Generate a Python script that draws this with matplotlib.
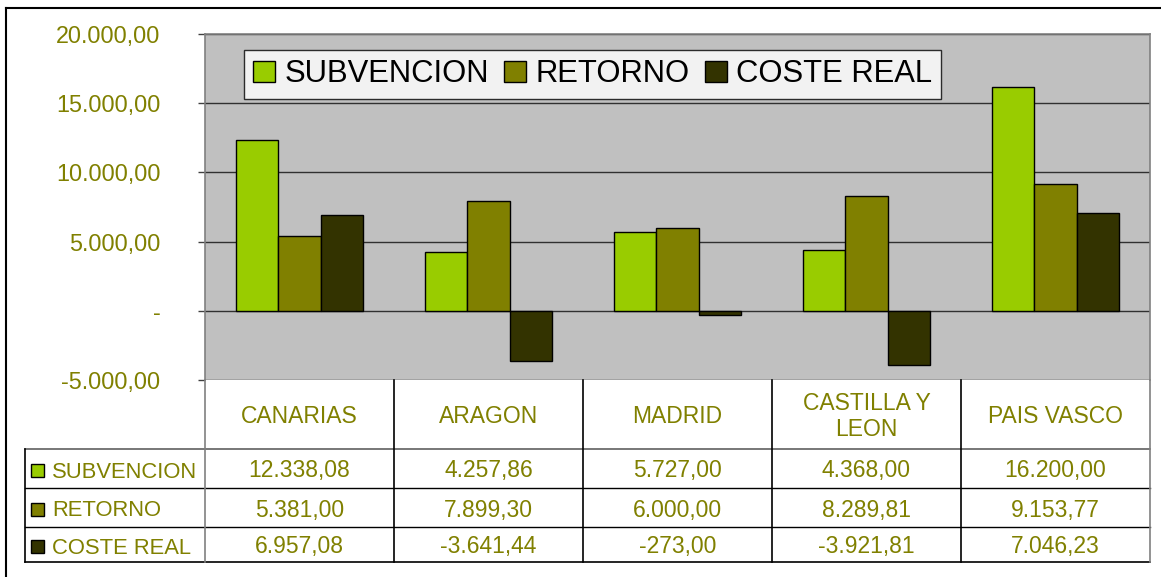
import matplotlib
matplotlib.use("Agg")
import matplotlib.pyplot as plt
import numpy as np

categories = ["CANARIAS", "ARAGON", "MADRID", "CASTILLA Y\nLEON", "PAIS VASCO"]
series_names = ["SUBVENCION", "RETORNO", "COSTE REAL"]
subvencion = [12338.08, 4257.86, 5727.00, 4368.00, 16200.00]
retorno = [5381.00, 7899.30, 6000.00, 8289.81, 9153.77]
coste_real = [6957.08, -3641.44, -273.00, -3921.81, 7046.23]
y_ticks = [-5000, 0, 5000, 10000, 15000, 20000]

colors = ["#99CC00", "#808000", "#333300"]
olive = "#808000"
plt.rcParams['font.family'] = ['Liberation Sans', 'DejaVu Sans']

W, H = 1161, 577
fig = plt.figure(figsize=(W / 100, H / 100), dpi=100)

# plot area in pixel coords
L, R, T, B = 205, 1150, 34, 380
ax = fig.add_axes([L / W, 1 - B / H, (R - L) / W, (B - T) / H])
ax.set_facecolor("#C0C0C0")

series = [subvencion, retorno, coste_real]
n = len(categories)
x = np.arange(n)
bw = 0.224
for i, (vals, c, name) in enumerate(zip(series, colors, series_names)):
    ax.bar(x + (i - 1) * bw, vals, bw, color=c, edgecolor="black", linewidth=1.0,
           label=name, zorder=3)

ax.set_xlim(-0.5, n - 0.5)
ax.set_ylim(-5000, 20000)
ax.set_yticks(y_ticks)


def fmt(v):
    s = f"{abs(v):,.2f}".replace(",", "X").replace(".", ",").replace("X", ".")
    return ("-" if v < 0 else "") + s


ax.set_yticklabels([("-" if v == 0 else fmt(v)) for v in y_ticks])
ax.tick_params(axis="y", colors="#404040", labelcolor=olive, labelsize=16.8,
               length=5, width=1, pad=27)
ax.set_xticks([])
for t in ax.get_yticklabels():
    t.set_horizontalalignment("right")
ax.yaxis.grid(True, color="#303030", linewidth=1.0, zorder=1)
for s in ["top", "right", "left"]:
    ax.spines[s].set_color("#808080")
    ax.spines[s].set_linewidth(1.2)
ax.spines["bottom"].set_visible(False)

leg = ax.legend(loc="upper left", bbox_to_anchor=((244 - L) / (R - L), 1 - (50 - T) / (B - T)),
                ncol=3, fontsize=22.3, frameon=True, fancybox=False, edgecolor="black",
                handlelength=0.7, handleheight=0.7, handletextpad=0.3, columnspacing=0.5,
                borderpad=0.3, borderaxespad=0)
leg.get_frame().set_linewidth(1.0)
for h in leg.legend_handles:
    h.set_linewidth(1.0)

# table overlay in pixel coords
ov = fig.add_axes([0, 0, 1, 1], zorder=5)
ov.set_xlim(0, W)
ov.set_ylim(H, 0)
ov.axis("off")
ov.patch.set_alpha(0)

# outer border
ov.plot([6, 6], [8, H], color="black", lw=1.5)
ov.plot([6, W], [8, 8], color="black", lw=1.5)

col_edges = np.linspace(L, R, n + 1)
row_edges = [B, 449, 488, 527, 562]
lab_left = 25

# horizontal lines
ov.plot([lab_left, R], [row_edges[1]] * 2, color="#606060", lw=1.2)
for y in row_edges[2:-1]:
    ov.plot([lab_left, R], [y, y], color="black", lw=1.0)
ov.plot([lab_left, R], [row_edges[-1]] * 2, color="black", lw=1.2)
# vertical lines
for i, xe in enumerate(col_edges):
    c = "#808080" if i in (0, n) else "black"
    ov.plot([xe, xe], [B, row_edges[-1]], color=c, lw=1.2)
ov.plot([lab_left, lab_left], [row_edges[1], row_edges[-1]], color="black", lw=1.2)

fs = 16.5
# header texts
for i, cat in enumerate(categories):
    cx = (col_edges[i] + col_edges[i + 1]) / 2
    ov.text(cx, (row_edges[0] + row_edges[1]) / 2 + 2, cat, ha="center", va="center",
            color=olive, fontsize=fs, linespacing=1.2)

# data rows
for r, (vals, c, name) in enumerate(zip(series, colors, series_names)):
    y0, y1 = row_edges[r + 1], row_edges[r + 2]
    yc = (y0 + y1) / 2 + 2.5
    ov.add_patch(plt.Rectangle((31, yc - 7), 13, 13, facecolor=c, edgecolor="black", lw=1.0))
    ov.text(52, yc + 1, name, ha="left", va="center", color=olive, fontsize=15.8)
    for i, v in enumerate(vals):
        cx = (col_edges[i] + col_edges[i + 1]) / 2
        ov.text(cx, yc, fmt(v), ha="center", va="center", color=olive, fontsize=fs)

fig.savefig("out.png", dpi=100)
